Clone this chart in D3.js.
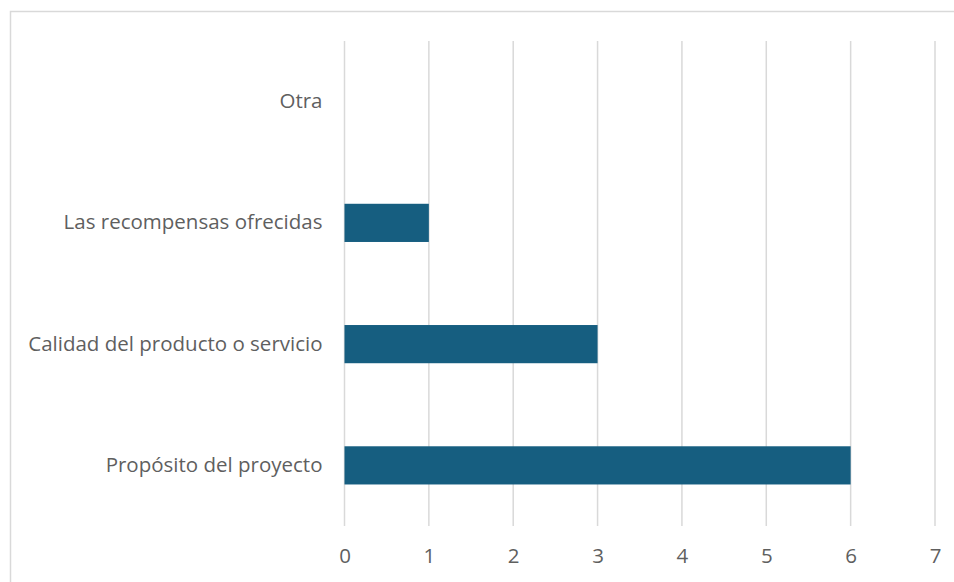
<!DOCTYPE html>
<html>
<head>
<meta charset="utf-8">
<script src="https://cdn.jsdelivr.net/npm/d3@7"></script>
<style>
  html, body { margin: 0; padding: 0; background: #fff; }
  svg { display: block; }
</style>
</head>
<body>
<svg id="chart" width="954" height="582"></svg>
<script>
// Categories, top to bottom
const categories = ["Otra", "Las recompensas ofrecidas", "Calidad del producto o servicio", "Propósito del proyecto"];
const values = [0, 1, 3, 6];
const xTicks = [0, 1, 2, 3, 4, 5, 6, 7];

const svg = d3.select("#chart");
const W = 954, H = 582;
const font = "'Open Sans', 'Noto Sans', sans-serif";
const fontSize = 20.5;
const textColor = "#5f5f5f";

// chart frame
svg.append("rect")
  .attr("x", 10.5).attr("y", 11.5)
  .attr("width", W + 20).attr("height", H + 20)
  .attr("fill", "#fff")
  .attr("stroke", "#d9d9d9").attr("stroke-width", 1.5);

const plot = { left: 344.5, right: 935, top: 41, bottom: 526 };

const x = d3.scaleLinear().domain([0, 7]).range([plot.left, plot.right]);
const y = d3.scaleBand().domain(categories).range([plot.top, plot.bottom]).paddingInner(0.685).paddingOuter(0.3425);

// vertical gridlines
svg.append("g")
  .selectAll("line")
  .data(xTicks)
  .join("line")
  .attr("x1", d => x(d)).attr("x2", d => x(d))
  .attr("y1", plot.top).attr("y2", plot.bottom)
  .attr("stroke", "#d9d9d9").attr("stroke-width", 1.5);

// bars
svg.append("g")
  .selectAll("rect")
  .data(categories.map((c, i) => ({ c, v: values[i] })))
  .join("rect")
  .attr("x", x(0))
  .attr("y", d => y(d.c))
  .attr("width", d => x(d.v) - x(0))
  .attr("height", y.bandwidth())
  .attr("fill", "#165e80");

// x axis labels
const xAxis = d3.axisBottom(x).tickValues(xTicks).tickSize(0).tickPadding(0).tickFormat(d3.format("d"));
const gx = svg.append("g").attr("transform", `translate(0,${plot.bottom + 22})`).call(xAxis);
gx.select(".domain").remove();
gx.selectAll("text")
  .attr("font-family", font).attr("font-size", fontSize).attr("fill", textColor);

// category labels
const yAxis = d3.axisLeft(y).tickSize(0).tickPadding(22);
const gy = svg.append("g").attr("transform", `translate(${plot.left},0)`).call(yAxis);
gy.select(".domain").remove();
gy.selectAll("text")
  .attr("font-family", font).attr("font-size", fontSize).attr("fill", textColor);
</script>
</body>
</html>
